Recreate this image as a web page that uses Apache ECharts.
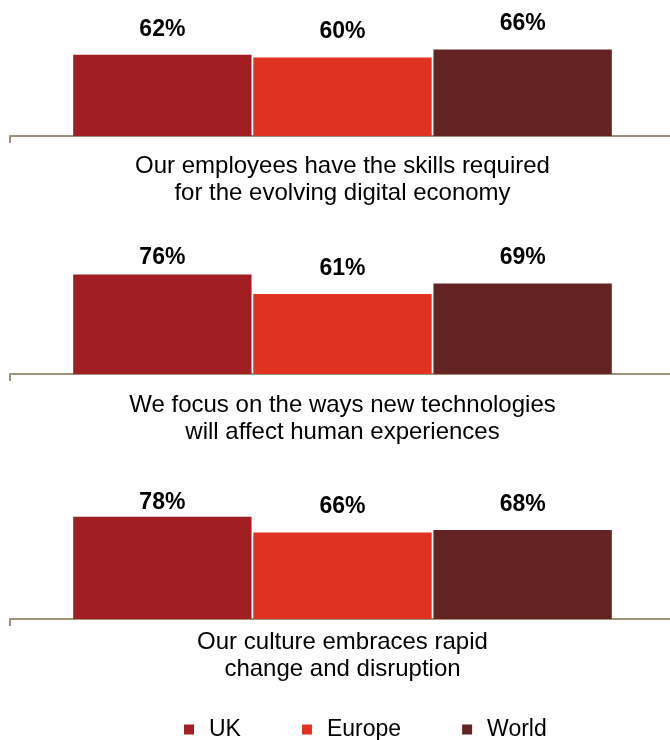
<!DOCTYPE html>
<html>
<head>
<meta charset="utf-8">
<script src="https://cdn.jsdelivr.net/npm/echarts@6/dist/echarts.min.js"></script>
<style>
  html, body { margin: 0; padding: 0; background: #ffffff; }
  #chart { width: 670px; height: 740px; }
</style>
</head>
<body>
<div id="chart"></div>
<script>
const categories = [
  "Our employees have the skills required\nfor the evolving digital economy",
  "We focus on the ways new technologies\nwill affect human experiences",
  "Our culture embraces rapid\nchange and disruption"
];
const seriesNames = ["UK", "Europe", "World"];
const ukValues = [62, 76, 78];
const europeValues = [60, 61, 66];
const worldValues = [66, 69, 68];

const colors = ["#a11f22", "#e03220", "#622322"];
const FONT = "'Liberation Sans', Arial, sans-serif";
const valueSets = [ukValues, europeValues, worldValues];

const axisBottoms = [136, 374, 619];
const labelMargins = [17, 18, 10];
const plotH = 131;
const yMax = 100;
const labelFont = 23;

// label distance: keep label inside the plot area (clamped at top)
function labelDistance(v) {
  const room = (yMax - v) * plotH / yMax - labelFont - 3;
  return Math.max(0, Math.min(14, room));
}

const grids = [], xAxes = [], yAxes = [], series = [];
categories.forEach((cat, i) => {
  grids.push({ left: 10, right: -5, top: axisBottoms[i] - plotH, height: plotH,
               containLabel: false, outerBoundsMode: 'none' });
  xAxes.push({
    type: 'category', gridIndex: i, data: [cat],
    axisLine: { show: true, lineStyle: { color: '#9d9379', width: 2 } },
    axisTick: { show: true, length: 7, lineStyle: { color: '#9d9379', width: 2 } },
    axisLabel: { color: '#000', fontFamily: FONT, fontSize: 24, lineHeight: 27, margin: labelMargins[i] }
  });
  yAxes.push({ type: 'value', gridIndex: i, min: 0, max: yMax, show: false, splitLine: { show: false } });
  seriesNames.forEach((name, s) => {
    const v = valueSets[s][i];
    series.push({
      name: name, type: 'bar', xAxisIndex: i, yAxisIndex: i,
      barCategoryGap: '19%', barGap: '1%',
      itemStyle: { color: colors[s] },
      data: [{
        value: v,
        label: { distance: labelDistance(v) }
      }],
      label: {
        show: true, position: 'top', formatter: '{c}%',
        color: '#000', fontFamily: FONT, fontWeight: 'bold', fontSize: labelFont
      }
    });
  });
});

const chart = echarts.init(document.getElementById('chart'), null, { renderer: 'canvas' });
chart.setOption({
  animation: false,
  backgroundColor: '#ffffff',
  grid: grids,
  xAxis: xAxes,
  yAxis: yAxes,
  legend: {
    data: seriesNames.map((n, s) => ({ name: n, itemStyle: { color: colors[s] } })),
    left: 179, top: 713,
    icon: 'rect', itemWidth: 10, itemHeight: 10, itemGap: 61,
    textStyle: { color: '#000', fontFamily: FONT, fontSize: 23, padding: [0, 0, 0, 10] }
  },
  series: series
});
</script>
</body>
</html>
